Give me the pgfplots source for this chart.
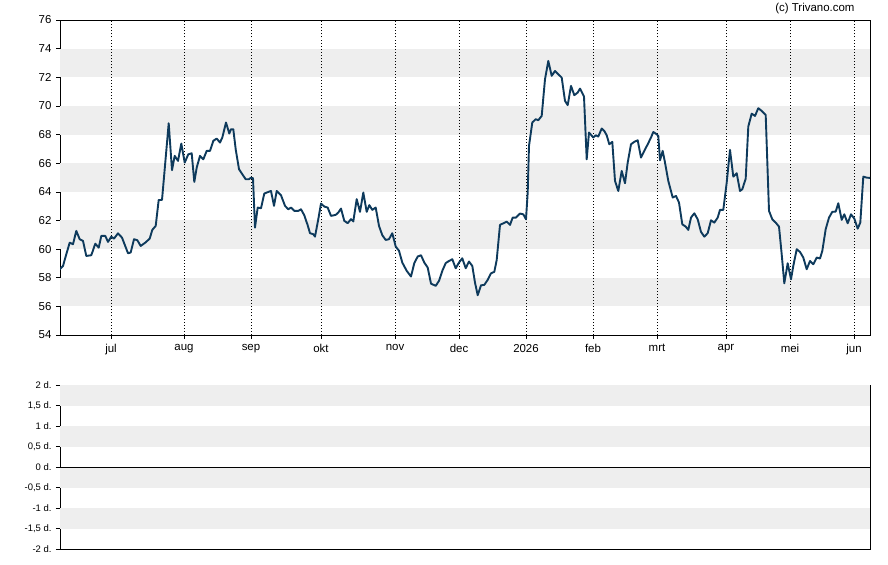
\documentclass[border=0pt]{standalone}
\usepackage{fontspec}
\setmainfont{Liberation Sans}
\usepackage{pgfplots}
\pgfplotsset{compat=1.18}
\definecolor{priceline}{HTML}{0E3A5C}
\definecolor{band}{HTML}{EEEEEE}
\tikzset{monthgrid/.style={dash pattern=on 0.9bp off 2.2bp, line width=0.9bp, black}}
\begin{document}
\begin{tikzpicture}
\path[use as bounding box] (0bp,0bp) rectangle (888bp,565bp);
\begin{axis}[
  at={(60bp,230bp)}, anchor=south west, scale only axis,
  width=810bp, height=315bp,
  xmin=60, xmax=870, ymin=54, ymax=76,
  ytick={54,56,...,76},
  xtick={111,184,251,321,395,459,526,593,657,726,790,854},
  xticklabels={jul,aug,sep,okt,nov,dec,2026,feb,mrt,apr,mei,jun},
  tick align=outside, major tick length=4bp,
  xtick pos=bottom, ytick pos=left,
  tick style={black, line width=0.6bp},
  axis line style={black, line width=0.9bp},
  ticklabel style={font=\fontsize{11.5}{13}\selectfont},
  yticklabel style={xshift=-1bp},
  xticklabel style={yshift=-1.5bp},
  /pgf/number format/assume math mode=true,
]
\fill[band] (axis cs:60,56) rectangle (axis cs:870,58);
\fill[band] (axis cs:60,60) rectangle (axis cs:870,62);
\fill[band] (axis cs:60,64) rectangle (axis cs:870,66);
\fill[band] (axis cs:60,68) rectangle (axis cs:870,70);
\fill[band] (axis cs:60,72) rectangle (axis cs:870,74);
\draw[monthgrid] (axis cs:111,54) -- (axis cs:111,76);
\draw[monthgrid] (axis cs:184,54) -- (axis cs:184,76);
\draw[monthgrid] (axis cs:251,54) -- (axis cs:251,76);
\draw[monthgrid] (axis cs:321,54) -- (axis cs:321,76);
\draw[monthgrid] (axis cs:395,54) -- (axis cs:395,76);
\draw[monthgrid] (axis cs:459,54) -- (axis cs:459,76);
\draw[monthgrid] (axis cs:526,54) -- (axis cs:526,76);
\draw[monthgrid] (axis cs:593,54) -- (axis cs:593,76);
\draw[monthgrid] (axis cs:657,54) -- (axis cs:657,76);
\draw[monthgrid] (axis cs:726,54) -- (axis cs:726,76);
\draw[monthgrid] (axis cs:790,54) -- (axis cs:790,76);
\draw[monthgrid] (axis cs:854,54) -- (axis cs:854,76);
\addplot[priceline, line width=1.9bp, line join=round] table {
x y
59.7 58.59
63 58.82
66.3 59.64
69.7 60.45
73 60.34
76.3 61.27
79.7 60.69
83 60.57
86.3 59.52
91.3 59.57
95.3 60.38
98.7 60.10
101.3 60.92
105.3 60.92
108 60.50
111.3 60.87
114 60.73
118 61.10
122 60.80
128 59.71
130.7 59.76
134 60.69
137.3 60.62
140.7 60.22
145.3 60.45
149.7 60.73
152.3 61.34
155.7 61.62
158.7 63.43
162 63.43
164.7 65.58
168.7 68.79
172 65.51
174.7 66.51
178 66.16
181.3 67.37
184.7 66.04
188.3 66.62
191.7 66.69
194.3 64.69
196.7 65.69
200 66.51
203.3 66.27
206.7 66.86
210 66.86
213.3 67.56
216.7 67.72
220 67.44
222.3 67.79
226 68.84
229.3 68.07
231 68.37
233.3 68.37
235.7 66.97
239 65.58
242.3 65.23
245.7 64.88
249 64.88
251 64.99
253 64.95
255 61.50
257.7 62.90
261 62.85
264.3 63.88
268.3 63.99
271 64.06
274 63.02
276.7 64.06
281 63.76
285 63.02
288.3 62.78
291 62.90
294.3 62.67
298.3 62.67
301 62.78
304.3 62.36
307.7 61.66
310 61.11
313.3 61.04
315 60.87
318.3 62.09
321 63.18
324.3 62.97
327.7 62.90
331 62.32
335.7 62.39
338.3 62.55
341 62.83
344.3 61.97
347.7 61.81
351 62.09
353.3 61.93
356.7 63.49
360 62.60
363.3 63.95
366.7 62.60
369.3 63.07
372.3 62.74
375.7 62.90
379 61.62
382.3 60.97
385.7 60.64
389 60.69
392.3 61.11
395.7 60.18
399 59.88
402.3 59.06
406.7 58.48
411 58.08
414.3 59.02
417.7 59.48
421 59.57
424.3 59.06
427.7 58.71
431 57.59
435.7 57.43
439 57.78
442.3 58.48
445.7 59.02
449 59.17
452.3 59.29
455.7 58.66
459 59.06
462.3 59.36
465.7 58.66
469 59.13
472.3 58.82
475 57.66
477.7 56.78
481 57.47
484.3 57.50
487.7 57.85
491 58.31
494.3 58.41
496.7 59.24
500 61.69
503.3 61.80
506.7 61.92
510 61.69
512.7 62.20
516 62.20
520 62.48
523.3 62.43
526 62.08
527.7 63.95
529 67.21
532.3 68.84
535.7 69.07
538.3 69.00
541.7 69.30
545 71.86
548.3 73.14
551.7 72.10
555 72.44
558.3 72.21
561.7 71.98
565 70.35
567.7 70.05
571 71.40
574.3 70.75
577.7 70.93
580 71.21
584 70.65
586.7 66.27
589 68.14
593.3 67.79
595.7 67.95
598.3 67.86
601.7 68.42
604.3 68.25
606.7 67.95
609.3 67.32
612.3 67.49
615 64.76
618.3 64.06
621.7 65.46
625 64.60
627.7 66.04
631 67.32
634.3 67.49
637.7 67.60
641 66.39
644.3 66.86
647.7 67.32
651 67.79
653.3 68.18
656.7 68.02
658.3 67.90
660 66.20
662.7 66.86
665 66.04
668.3 64.76
672.7 63.60
676 63.71
679 63.25
682.3 61.73
685.7 61.57
688.3 61.34
691 62.20
694.3 62.50
697.7 62.08
701 61.20
704.3 60.87
707.7 61.11
711 62.01
714.3 61.85
717.7 62.20
720 62.74
723.3 62.74
726.7 64.64
730 66.93
733.3 65.06
736.7 65.30
740 64.06
742.3 64.18
745.7 64.92
748.3 68.56
751.7 69.46
755 69.30
758.3 69.84
761.7 69.65
765.7 69.37
769 62.67
772.3 62.08
775.7 61.85
779 61.57
781.7 59.64
784.3 57.61
787.7 59.01
791 57.89
793.3 58.82
796.7 59.99
800 59.80
803.3 59.41
806.7 58.59
810 59.17
813.3 58.94
816.7 59.41
820 59.34
822.3 59.87
825.7 61.39
829 62.20
832.3 62.60
835.7 62.62
838.3 63.20
841.7 62.04
844.3 62.43
847.7 61.80
851 62.43
854.3 62.13
857.7 61.43
860.3 61.85
863.3 65.06
866.7 64.99
870 64.97
};
\end{axis}
\begin{axis}[
  at={(60bp,16bp)}, anchor=south west, scale only axis,
  width=810bp, height=164bp,
  xmin=60, xmax=870, ymin=-2, ymax=2,
  xtick=\empty,
  ytick={-2,-1.5,-1,-0.5,0,0.5,1,1.5,2},
  yticklabels={{-2 d.},{-1,5 d.},{-1 d.},{-0,5 d.},{0 d.},{0,5 d.},{1 d.},{1,5 d.},{2 d.}},
  tick align=outside, major tick length=4bp,
  ytick pos=left,
  tick style={black, line width=0.6bp},
  axis line style={black, line width=0.9bp},
  yticklabel style={font=\fontsize{9.5}{11}\selectfont, xshift=-1bp},
]
\fill[band] (axis cs:60,1.5) rectangle (axis cs:870,2);
\fill[band] (axis cs:60,0.5) rectangle (axis cs:870,1);
\fill[band] (axis cs:60,-0.5) rectangle (axis cs:870,0);
\fill[band] (axis cs:60,-1.5) rectangle (axis cs:870,-1);
\draw[black, line width=0.9bp] (axis cs:60,0) -- (axis cs:870,0);
\end{axis}
\node[anchor=east, font=\fontsize{11.5}{13}\selectfont] at (858bp,556bp) {(c) Trivano.com};
\end{tikzpicture}
\end{document}
